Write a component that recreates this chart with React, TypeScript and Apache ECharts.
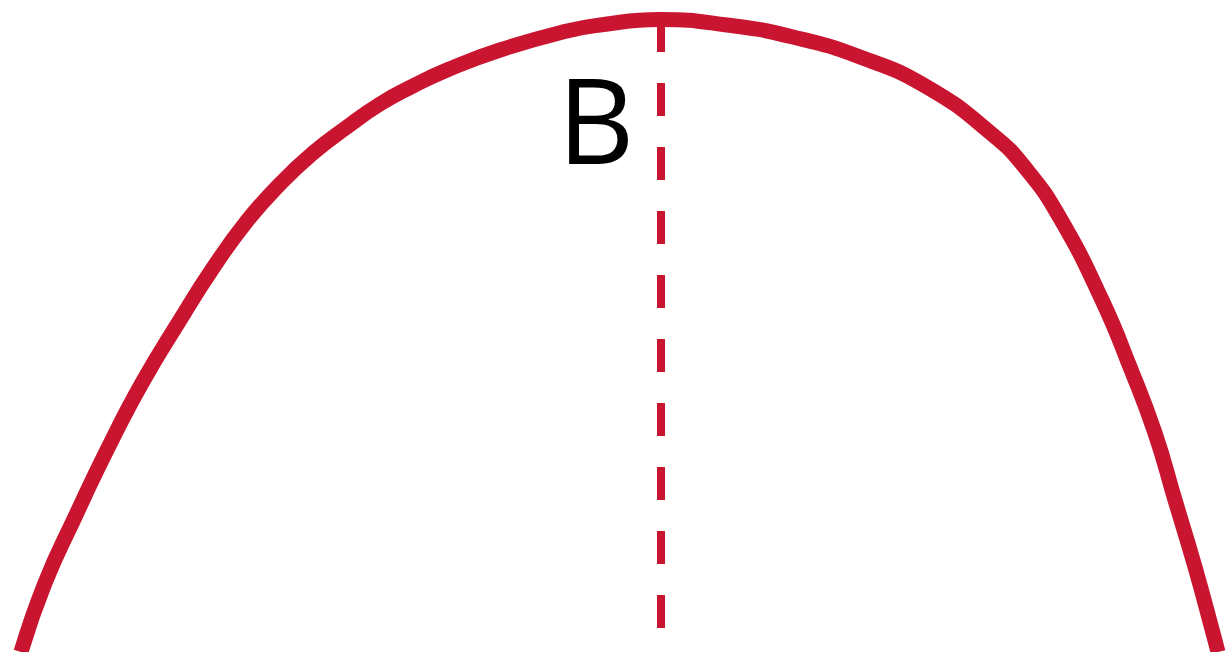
import React, { useEffect, useRef } from "react";
import * as echarts from "echarts";

// Curve samples, in a 0..1226 (x) by 0..652 (y, upward) value space
const curveX = [21, 45, 75, 107, 142, 180, 213, 247, 280, 313, 347, 380, 413, 447, 500, 567, 600, 660, 727, 793, 860, 927, 993, 1027, 1060, 1102, 1130, 1155, 1175, 1195, 1213, 1218];
const curveY = [0, 69, 135, 202, 269, 332, 384, 431, 468, 499, 525, 548, 566, 582, 602, 621, 627, 632.5, 627, 615, 595, 565, 517, 482, 434, 352, 285, 219, 152, 85, 19, 0];

// Vertical dashed marker at the peak
const markerX = [661, 661];
const markerY = [633, 24];

const labelText = "B";
const RED = "#C9152F";

export default function App() {
  const ref = useRef<HTMLDivElement>(null);
  useEffect(() => {
    if (!ref.current) return;
    const chart = echarts.init(ref.current, null, { renderer: "svg" });
    chart.setOption({
      animation: false,
      backgroundColor: "#ffffff",
      grid: { left: 0, right: 0, top: 0, bottom: 0 },
      xAxis: { type: "value", min: 0, max: 1226, show: false },
      yAxis: { type: "value", min: 0, max: 652, show: false },
      series: [
        {
          type: "line",
          data: markerX.map((x, i) => [x, markerY[i]]),
          showSymbol: false,
          symbol: "none",
          clip: false,
          lineStyle: { color: RED, width: 8, type: [33, 31], cap: "butt" },
          silent: true,
        },
        {
          type: "line",
          data: curveX.map((x, i) => [x, curveY[i]]),
          smooth: 0.5,
          showSymbol: false,
          symbol: "none",
          clip: false,
          lineStyle: { color: RED, width: 15, cap: "butt", join: "round" },
          silent: true,
        },
      ],
      graphic: [
        {
          type: "text",
          x: 596,
          y: 118,
          style: {
            text: labelText,
            fill: "#000000",
            font: "119px 'Open Sans'",
            align: "center",
            verticalAlign: "middle",
          },
        },
      ],
    });
    return () => chart.dispose();
  }, []);
  return (
    <div
      ref={ref}
      style={{ position: "absolute", left: 0, top: 0, width: 1226, height: 652 }}
    />
  );
}
